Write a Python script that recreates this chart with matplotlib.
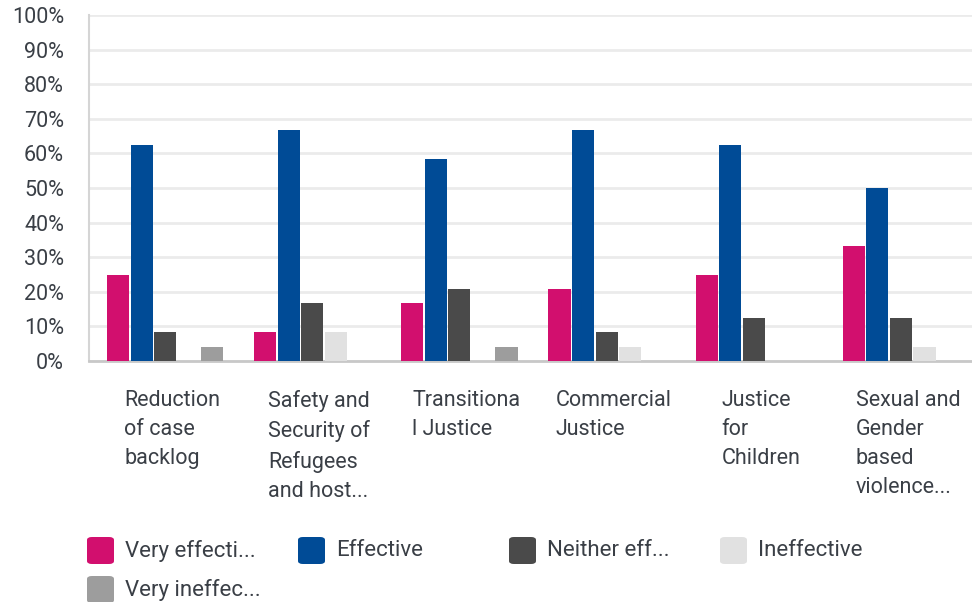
import matplotlib
matplotlib.use('Agg')
import matplotlib.pyplot as plt
from matplotlib.patches import FancyBboxPatch
from matplotlib.ticker import FuncFormatter
import numpy as np

# Survey answers per justice area (share of respondents, %)
categories = [
    'Reduction\nof case\nbacklog',
    'Safety and\nSecurity of\nRefugees\nand host...',
    'Transitiona\nl Justice',
    'Commercial\nJustice',
    'Justice\nfor\nChildren',
    'Sexual and\nGender\nbased\nviolence...',
]
series_names = ['Very effecti...', 'Effective', 'Neither eff...', 'Ineffective', 'Very ineffec...']
very_effective = [25.0, 8.33, 16.67, 20.83, 25.0, 33.33]
effective = [62.5, 66.67, 58.33, 66.67, 62.5, 50.0]
neither = [8.33, 16.67, 20.83, 8.33, 12.5, 12.5]
ineffective = [0, 8.33, 0, 4.17, 0, 4.17]
very_ineffective = [4.17, 0, 4.17, 0, 0, 0]
colors = ['#D20F6E', '#004B96', '#4A4A4A', '#E1E1E1', '#9D9D9D']

values = [very_effective, effective, neither, ineffective, very_ineffective]
text_color = '#3A3F46'

fig = plt.figure(figsize=(9.72, 6.02), dpi=100)
ax = fig.add_axes([89 / 972, 1 - 361 / 602, 1 - 89 / 972, (361 - 15) / 602])

x = np.arange(len(categories))
slot = 0.16
bar_w = 0.15
for i, (vals, col) in enumerate(zip(values, colors)):
    ax.bar(x + 0.517 + (i - 2) * slot, vals, width=bar_w, color=col, zorder=3)

ax.set_xlim(0, len(categories))
ax.set_ylim(0, 100)
ax.set_yticks(range(0, 101, 10))
ax.yaxis.set_major_formatter(FuncFormatter(lambda v, p: f'{int(v)}%'))
ax.tick_params(axis='y', length=0, pad=18, labelsize=15.5, labelcolor=text_color)
ax.set_xticks([])
ax.grid(axis='y', color='#EBEBEB', linewidth=2, zorder=0)
for side in ['top', 'right']:
    ax.spines[side].set_visible(False)
ax.spines['left'].set_color('#D5D5D5')
ax.spines['left'].set_linewidth(1.5)
ax.spines['bottom'].set_color('#C8C8C8')
ax.spines['bottom'].set_linewidth(2)
for lbl in ax.get_yticklabels():
    lbl.set_family('Roboto')

# category labels under each group, left aligned block
for xi, cat in zip(x, categories):
    ax.text(xi + 0.565, -8.3, cat, ha='center', va='top', multialignment='left',
            fontsize=15.5, color=text_color, family='Roboto', linespacing=1.5,
            transform=ax.transData, clip_on=False)

# legend with rounded swatches
W, H = 972, 602
legend_pos = [(87, 537), (298, 537), (509, 537), (720, 537), (87, 576)]
for (lx, ly), name, col in zip(legend_pos, series_names, colors):
    sw = FancyBboxPatch((lx / W, 1 - (ly + 27) / H), 27 / W, 27 / H,
                        boxstyle='round,pad=0,rounding_size=0.005',
                        transform=fig.transFigure, facecolor=col, edgecolor='none')
    fig.patches.append(sw)
    fig.text((lx + 38) / W, 1 - (ly + 14) / H, name, ha='left', va='center',
             fontsize=16, color=text_color, family='Roboto')

fig.savefig('out.png', dpi=100)
